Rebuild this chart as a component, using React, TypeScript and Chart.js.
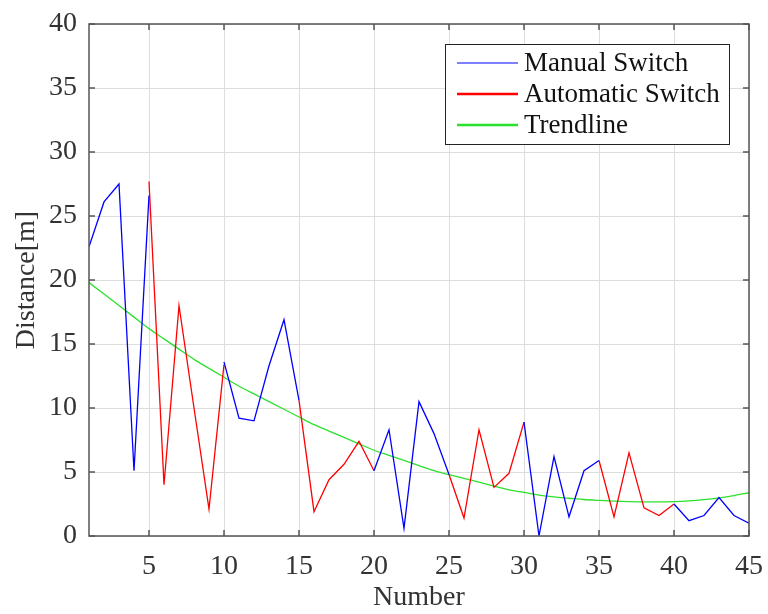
import React, { useEffect, useRef } from "react";
import { Chart, registerables } from "chart.js";

Chart.register(...registerables);

const numbers: number[] = Array.from({ length: 45 }, (_, i) => i + 1);

const manualSwitch: (number | null)[] = [
  22.6, 26.1, 27.5, 5.1, 26.6, null, null, null, null, 13.6,
  9.2, 9.0, 13.3, 16.9, 10.6, null, null, null, null, 5.1,
  8.3, 0.6, 10.5, 8.0, 4.8, null, null, null, null, 8.9,
  0.0, 6.2, 1.5, 5.1, 5.9, null, null, null, null, 2.5,
  1.2, 1.6, 3.0, 1.6, 1.0,
];

const automaticSwitch: (number | null)[] = [
  null, null, null, null, 27.7, 4.0, 18.0, 10.0, 2.1, 13.4,
  null, null, null, null, 10.6, 1.9, 4.4, 5.6, 7.4, 5.1,
  null, null, null, null, 4.8, 1.4, 8.3, 3.8, 4.9, 8.9,
  null, null, null, null, 5.9, 1.5, 6.5, 2.2, 1.6, 2.5,
  null, null, null, null, null,
];

const trendline: number[] = [
  19.8, 18.9, 18.0, 17.1, 16.2, 15.4, 14.6, 13.8, 13.1, 12.4,
  11.7, 11.1, 10.5, 9.9, 9.3, 8.7, 8.2, 7.7, 7.2, 6.7,
  6.3, 5.9, 5.5, 5.1, 4.8, 4.5, 4.2, 3.9, 3.6, 3.4,
  3.2, 3.05, 2.95, 2.85, 2.78, 2.72, 2.68, 2.66, 2.66, 2.68,
  2.74, 2.84, 2.98, 3.16, 3.38,
];

const xTicks: number[] = [5, 10, 15, 20, 25, 30, 35, 40, 45];
const yTicks: number[] = [0, 5, 10, 15, 20, 25, 30, 35, 40];

const seriesNames = ["Manual Switch", "Automatic Switch", "Trendline"];
const seriesColors = ["#0000ff", "#ff0000", "#2ee02e"];

const FONT = "'Liberation Serif', 'Times New Roman', serif";

const toPoints = (vals: (number | null)[]) =>
  vals.map((v, i) => ({ x: numbers[i], y: v }));

const framePlugin = {
  id: "frame",
  afterDatasetsDraw(chart: any) {
    const { ctx, chartArea } = chart;
    const { left, right, top, bottom } = chartArea;
    const xs = chart.scales.x;
    const ys = chart.scales.y;
    ctx.save();
    ctx.strokeStyle = "#555555";
    ctx.lineWidth = 1.5;
    ctx.strokeRect(left, top, right - left, bottom - top);
    const tl = 6;
    ctx.beginPath();
    xTicks.forEach((t) => {
      const px = xs.getPixelForValue(t);
      ctx.moveTo(px, bottom);
      ctx.lineTo(px, bottom - tl);
      ctx.moveTo(px, top);
      ctx.lineTo(px, top + tl);
    });
    yTicks.forEach((t) => {
      const py = ys.getPixelForValue(t);
      ctx.moveTo(left, py);
      ctx.lineTo(left + tl, py);
      ctx.moveTo(right, py);
      ctx.lineTo(right - tl, py);
    });
    ctx.stroke();
    ctx.restore();
  },
};

const legendPlugin = {
  id: "customLegend",
  afterDraw(chart: any) {
    const { ctx } = chart;
    const bx = 445, by = 44, bw = 284, bh = 100;
    ctx.save();
    ctx.fillStyle = "#ffffff";
    ctx.fillRect(bx, by, bw, bh);
    ctx.strokeStyle = "#222222";
    ctx.lineWidth = 1;
    ctx.strokeRect(bx + 0.5, by + 0.5, bw, bh);
    const rows = [63, 94, 125];
    const widths = [1.2, 2.5, 2.5];
    seriesNames.forEach((name, i) => {
      ctx.strokeStyle = seriesColors[i];
      ctx.lineWidth = widths[i];
      ctx.beginPath();
      ctx.moveTo(457, rows[i]);
      ctx.lineTo(518, rows[i]);
      ctx.stroke();
      ctx.fillStyle = "#111111";
      ctx.font = `27px ${FONT}`;
      ctx.textAlign = "left";
      ctx.textBaseline = "middle";
      ctx.fillText(name, 524, rows[i] + 1);
    });
    ctx.restore();
  },
};

export default function App() {
  const ref = useRef<HTMLCanvasElement | null>(null);

  useEffect(() => {
    if (!ref.current) return;
    const chart = new Chart(ref.current, {
      type: "line",
      data: {
        datasets: [
          {
            label: seriesNames[0],
            data: toPoints(manualSwitch),
            borderColor: seriesColors[0],
            borderWidth: 1.3,
            pointRadius: 0,
            spanGaps: false,
            tension: 0,
          },
          {
            label: seriesNames[1],
            data: toPoints(automaticSwitch),
            borderColor: seriesColors[1],
            borderWidth: 1.3,
            pointRadius: 0,
            spanGaps: false,
            tension: 0,
          },
          {
            label: seriesNames[2],
            data: toPoints(trendline),
            borderColor: seriesColors[2],
            borderWidth: 1.3,
            pointRadius: 0,
            cubicInterpolationMode: "monotone",
          },
        ],
      },
      options: {
        animation: false,
        responsive: true,
        maintainAspectRatio: false,
        layout: { padding: { top: 24, right: 19, left: 0, bottom: 0 } },
        plugins: { legend: { display: false }, tooltip: { enabled: false } },
        scales: {
          x: {
            type: "linear",
            min: 1,
            max: 45,
            afterBuildTicks: (axis: any) => {
              axis.ticks = xTicks.map((v) => ({ value: v }));
            },
            afterFit: (axis: any) => {
              axis.height = 78;
              axis.paddingLeft = 0;
              axis.paddingRight = 0;
            },
            grid: { color: "#dddddd", lineWidth: 1, drawTicks: false },
            border: { display: false },
            ticks: {
              padding: 14,
              color: "#333333",
              font: { family: FONT, size: 28 },
              maxRotation: 0,
              autoSkip: false,
            },
            title: {
              display: true,
              text: "Number",
              color: "#333333",
              font: { family: FONT, size: 28 },
              padding: { top: 0, bottom: 0 },
            },
          },
          y: {
            type: "linear",
            min: 0,
            max: 40,
            afterBuildTicks: (axis: any) => {
              axis.ticks = yTicks.map((v) => ({ value: v }));
            },
            afterFit: (axis: any) => {
              axis.width = 89;
              axis.paddingTop = 0;
              axis.paddingBottom = 0;
            },
            grid: { color: "#dddddd", lineWidth: 1, drawTicks: false },
            border: { display: false },
            ticks: {
              padding: 12,
              color: "#333333",
              font: { family: FONT, size: 28 },
            },
            title: {
              display: true,
              text: "Distance[m]",
              color: "#333333",
              font: { family: FONT, size: 28 },
              padding: { top: 10, bottom: 0 },
            },
          },
        },
      },
      plugins: [framePlugin, legendPlugin],
    });
    return () => chart.destroy();
  }, []);

  return (
    <div style={{ position: "fixed", left: 0, top: 0, width: 768, height: 614, background: "#fff" }}>
      <canvas ref={ref} />
    </div>
  );
}
